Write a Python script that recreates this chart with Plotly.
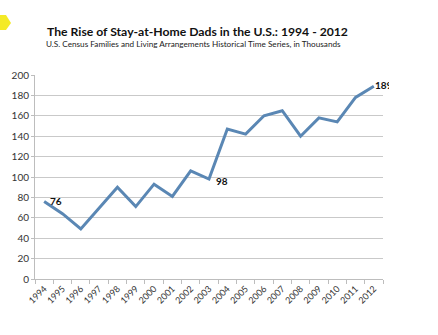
import plotly.graph_objects as go

# Stay-at-home dads in the U.S., thousands
years = [str(y) for y in range(1994, 2013)]
dads = [76, 64, 49, 70, 90, 71, 93, 81, 106, 98, 147, 142, 160, 165, 140, 158, 154, 178, 189]

y_ticks = [0, 20, 40, 60, 80, 100, 120, 140, 160, 180, 200]

title = "The Rise of Stay-at-Home Dads in the U.S.: 1994 - 2012"
subtitle = "U.S. Census Families and Living Arrangements Historical Time Series, in Thousands"

# labelled points: year index -> (xshift, yshift, box width or None)
labelled = {0: (4, 0, None), 9: (5, -2, None), 18: (-1, 1, 14)}

line_color = "#5a87b4"
grid_color = "#c9c9c9"
text_color = "#333333"

fig = go.Figure()
fig.add_trace(go.Scatter(
    x=years, y=dads, mode="lines",
    line=dict(color=line_color, width=3),
    hoverinfo="skip", showlegend=False,
))

for i, (dx, dy, w) in labelled.items():
    fig.add_annotation(
        x=i, y=dads[i], xref="x", yref="y",
        text=f"<b>{dads[i]}</b>", showarrow=False,
        xanchor="left", yanchor="middle", xshift=dx, yshift=dy,
        width=w, align="left",
        font=dict(family="Lato", size=10, color="#111111"),
    )

fig.add_annotation(
    xref="paper", yref="paper", x=0.028, y=1.0, yshift=44, text=f"<b>{title}</b>",
    showarrow=False, xanchor="left", yanchor="middle",
    font=dict(family="Lato", size=12.2, color="#111111"),
)
fig.add_annotation(
    xref="paper", yref="paper", x=0.026, y=1.0, yshift=31, text=subtitle,
    showarrow=False, xanchor="left", yanchor="middle",
    font=dict(family="Lato", size=8.2, color="#222222"),
)

# yellow corner mark
fig.add_shape(
    type="path", xref="paper", yref="paper", xsizemode="pixel", ysizemode="pixel",
    xanchor=0, yanchor=1, path="M -40 45 L -29 45 L -24 52 L -29 60 L -40 60 Z",
    fillcolor="#f2e600", line=dict(width=0), opacity=0.85,
)

fig.update_layout(
    width=438, height=335,
    margin=dict(l=29, r=55, t=75, b=56),
    paper_bgcolor="white", plot_bgcolor="white",
    font=dict(family="Lato", color=text_color),
    xaxis=dict(
        type="category", range=[-0.5, len(years) - 0.5],
        tickangle=-45, tickson="boundaries", ticks="outside", ticklen=4,
        tickcolor="#bdbdbd", showgrid=False, showline=True, linecolor="#bdbdbd",
        tickfont=dict(size=9, color=text_color), zeroline=False,
    ),
    yaxis=dict(
        range=[0, 200], tickvals=y_ticks, showgrid=True, gridcolor=grid_color,
        gridwidth=1, showline=True, linecolor="#bdbdbd", ticks="outside",
        ticklen=3, tickcolor="#bdbdbd", zeroline=False,
        tickfont=dict(size=10, color=text_color),
    ),
)

fig.write_html("out.html")
